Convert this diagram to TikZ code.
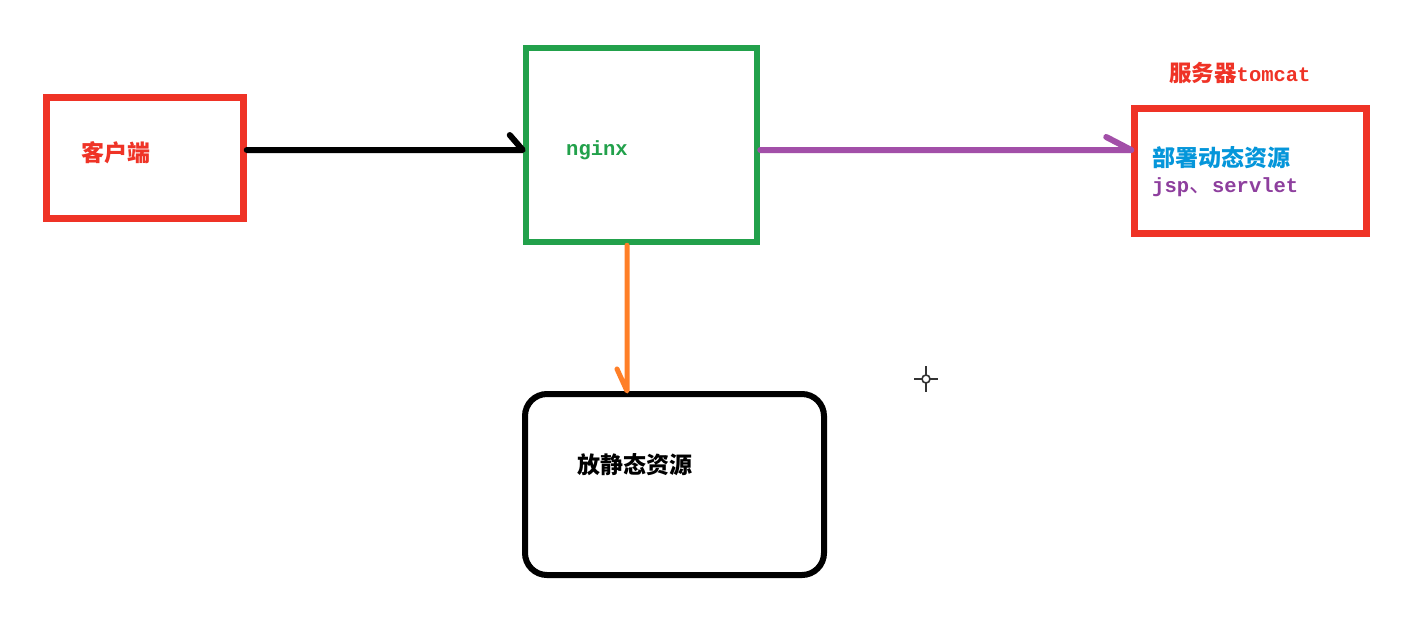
\documentclass[tikz,border=0pt]{standalone}
\usepackage{fontspec}
\usetikzlibrary{calc}
\setmainfont{Liberation Sans}
\newfontfamily\cjk{Noto Sans CJK SC}
\newfontfamily\mono[BoldFont={Liberation Mono Bold}]{Liberation Mono}
\definecolor{pRed}{HTML}{EF3326}
\definecolor{pGreen}{HTML}{22A14B}
\definecolor{pPurple}{HTML}{A24FA8}
\definecolor{pPurpleText}{HTML}{8E3F9E}
\definecolor{pOrange}{HTML}{FF7F27}
\definecolor{pBlue}{HTML}{0596DA}
\definecolor{pCursor}{HTML}{333333}
\tikzset{
  box/.style={draw, rectangle, line width=6.5pt, inner sep=0pt},
  lbl/.style={anchor=west, inner sep=0pt},
  cjktext/.style={font=\cjk\bfseries\fontsize{23}{23}\selectfont},
  monotext/.style={font=\mono\bfseries\fontsize{20.5}{21}\selectfont},
  conn/.style={line width=6pt, line cap=round, line join=round},
}
\begin{document}
\begin{tikzpicture}[x=1pt,y=-1pt]
\useasboundingbox (0,0) rectangle (1413,641);
\fill[white] (0,0) rectangle (1413,641);

% boxes
\node[box, pRed, minimum width=197pt, minimum height=121pt] (client) at (145,158) {};
\node[box, pGreen, minimum width=231pt, minimum height=194pt] (nginx) at (641.5,145) {};
\node[box, pRed, minimum width=232pt, minimum height=125pt] (tomcat) at (1250.5,171) {};
\node[box, black, line width=6pt, rounded corners=22pt, minimum width=299pt, minimum height=181pt] (static) at (674.5,484.5) {};

% labels
\node[lbl, cjktext, text=pRed] (clientlbl) at (81,153) {客户端};
\node[lbl, monotext, text=pGreen] (nginxlbl) at (566,150) {nginx};
\node[lbl, text=pRed] (tomcattitle) at (1169,73) {{\cjk\bfseries\fontsize{22.5}{23}\selectfont 服务器}{\mono\bfseries\fontsize{20.5}{21}\selectfont tomcat}};
\node[lbl, cjktext, text=pBlue] (dynlbl) at (1152,158) {部署动态资源};
\node[lbl, text=pPurpleText] (jsplbl) at (1152,187) {{\mono\bfseries\fontsize{20.5}{21}\selectfont jsp}{\cjk\fontsize{23}{23}\selectfont 、}{\mono\bfseries\fontsize{20.5}{21}\selectfont servlet}};
\node[lbl, cjktext, text=black] (staticlbl) at (577,465) {放静态资源};

% connectors
\coordinate (c1) at ([yshift=8pt]client.east);
\draw[conn, black] (c1) -- (c1 -| nginx.west) -- ++(-13,-15);
\coordinate (c2) at ([yshift=-5pt]nginx.east);
\draw[conn, pPurple] (c2) -- (c2 -| tomcat.west) -- ++(-25,-13);
\coordinate (c3) at ([xshift=-14.5pt]nginx.south);
\draw[conn, pOrange, line width=5pt] (c3) -- (c3 |- static.north) -- ++(-10,-22);

% mouse cursor
\coordinate (cur) at (926,379);
\draw[pCursor, line width=1.6pt] (cur) circle (4);
\draw[pCursor, line width=1.6pt] ($(cur)+(-12,0)$) -- ($(cur)+(-4,0)$);
\draw[pCursor, line width=1.6pt] ($(cur)+(4,0)$) -- ($(cur)+(12,0)$);
\draw[pCursor, line width=1.6pt] ($(cur)+(0,-13)$) -- ($(cur)+(0,-4)$);
\draw[pCursor, line width=1.6pt] ($(cur)+(0,4)$) -- ($(cur)+(0,13)$);
\end{tikzpicture}
\end{document}
